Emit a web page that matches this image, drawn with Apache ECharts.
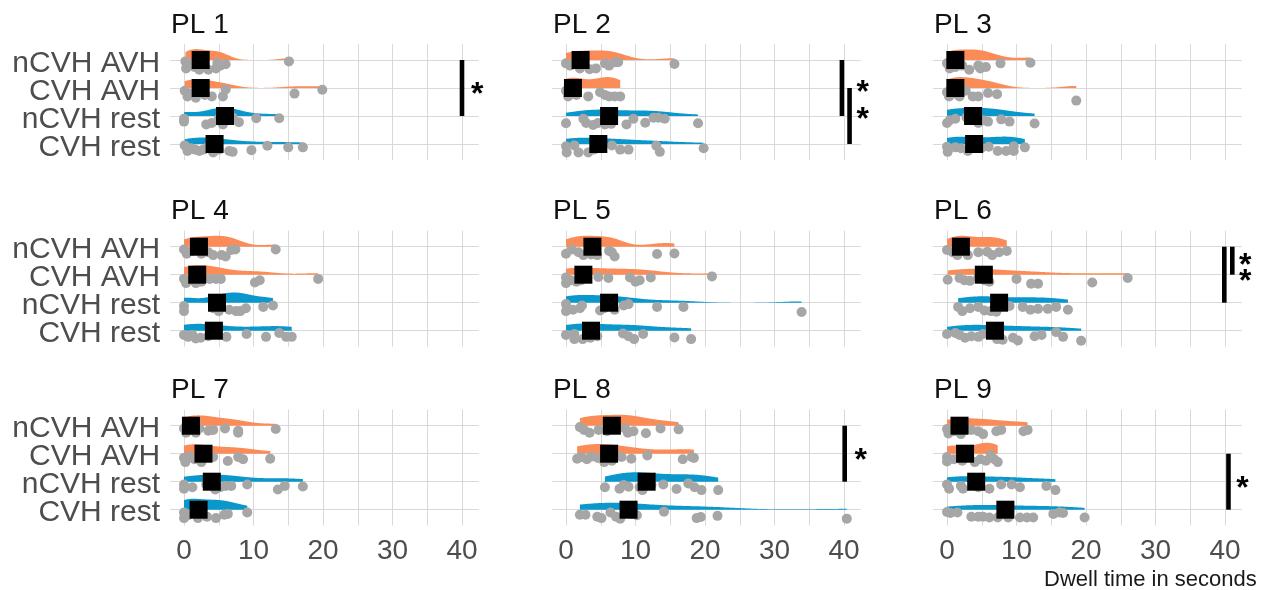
<!DOCTYPE html>
<html><head><meta charset="utf-8">
<script src="https://cdn.jsdelivr.net/npm/echarts@6/dist/echarts.min.js"></script>
<style>html,body{margin:0;padding:0;background:#fff}#c{width:1267px;height:590px}</style>
</head><body><div id="c"></div>
<script>
// ---------------- data ----------------
const categories = ['nCVH AVH', 'CVH AVH', 'nCVH rest', 'CVH rest'];
const panelTitles = ['PL 1', 'PL 2', 'PL 3', 'PL 4', 'PL 5', 'PL 6', 'PL 7', 'PL 8', 'PL 9'];
const xTickLabels = [0, 10, 20, 30, 40];
const xGridValues = [0, 5, 10, 15, 20, 25, 30, 35, 40];
const xTitle = 'Dwell time in seconds';

// each point: [dwell time in s, vertical jitter below the category line (in rows)]
const pl1 = [
  [[0.2,.05],[0.3,.3],[0.8,.15],[1.5,.25],[1.8,.1],[2.2,.35],[2.8,.2],[3.5,.35],[4.6,.3],[4.8,.1],[5.2,.2],[6.0,.15],[15.1,.05]],
  [[0.1,.1],[0.5,.3],[1.0,.2],[1.7,.35],[2.2,.1],[3.0,.25],[4.0,.3],[5.6,.3],[6.0,.05],[15.9,.2],[19.9,.06]],
  [[0.0,.1],[0.0,.2],[3.2,.3],[4.0,.25],[5.0,.1],[5.6,.3],[6.5,.15],[7.0,.05],[7.9,.22],[10.4,.08],[13.7,.08]],
  [[0.1,.05],[0.5,.25],[1.0,.15],[1.6,.2],[2.2,.25],[2.8,.2],[3.5,.1],[4.2,.3],[5.0,.2],[6.5,.25],[7.0,.28],[9.7,.22],[12.0,.06],[15.0,.12],[17.1,.12]]
];
const pl2 = [
  [[0.0,.12],[0.6,.2],[1.2,.1],[2.0,.3],[3.4,.33],[4.3,.3],[5.6,.12],[6.2,.2],[7.0,.08],[7.5,.08],[15.6,.14]],
  [[0.0,.1],[0.3,.3],[0.8,.2],[1.5,.25],[3.2,.3],[4.9,.15],[5.6,.25],[6.2,.3],[7.0,.3],[7.8,.3]],
  [[0.0,.26],[2.5,.1],[2.9,.25],[3.9,.32],[4.6,.25],[5.6,.3],[6.5,.28],[8.7,.3],[9.7,.1],[11.4,.24],[12.6,.06],[13.3,.06],[14.2,.1],[19.0,.26]],
  [[0.0,.08],[0.1,.3],[1.2,.05],[1.8,.3],[3.2,.3],[4.0,.2],[6.6,.05],[7.8,.2],[9.0,.2],[13.0,.06],[13.5,.28],[19.8,.15]]
];
const pl3 = [
  [[0.0,.12],[0.4,.3],[1.2,.25],[2.2,.2],[3.2,.35],[4.5,.2],[4.8,.3],[5.6,.25],[7.7,.12],[12.0,.1]],
  [[0.0,.15],[0.3,.3],[0.9,.2],[1.8,.3],[2.7,.1],[3.7,.3],[4.5,.3],[5.9,.18],[7.2,.22],[18.6,.45]],
  [[0.0,.25],[0.4,.15],[1.2,.1],[2.8,.05],[4.5,.25],[5.2,.15],[5.9,.2],[7.8,.12],[9.0,.2],[12.6,.27]],
  [[0.0,.1],[0.1,.28],[1.2,.12],[2.0,.15],[3.0,.25],[4.9,.15],[6.0,.1],[7.3,.25],[8.5,.25],[9.6,.08],[9.6,.25],[11.2,.12]]
];
const pl4 = [
  [[0.0,.1],[0.4,.25],[1.2,.15],[2.5,.25],[3.5,.2],[4.2,.3],[5.4,.3],[6.0,.35],[6.8,.12],[7.4,.1],[13.2,.1]],
  [[0.0,.15],[0.3,.3],[1.0,.2],[1.7,.3],[2.5,.25],[3.7,.15],[4.6,.15],[5.3,.15],[10.2,.28],[10.9,.2],[19.3,.15]],
  [[0.0,.12],[0.0,.3],[4.2,.2],[5.0,.3],[6.5,.25],[7.5,.3],[8.1,.3],[8.9,.2],[11.4,.15],[12.8,.1]],
  [[0.0,.15],[0.6,.22],[1.2,.15],[1.7,.28],[2.4,.25],[3.5,.2],[6.1,.22],[9.0,.12],[11.8,.22],[13.7,.08],[14.7,.22],[15.5,.22]]
];
const pl5 = [
  [[0.0,.25],[0.8,.1],[1.8,.2],[2.5,.3],[3.6,.28],[4.5,.3],[6.2,.15],[6.6,.2],[7.0,.35],[13.1,.26],[15.6,.24]],
  [[0.0,.1],[0.0,.3],[0.7,.2],[1.5,.25],[2.2,.2],[4.65,.08],[6.1,.12],[9.2,.1],[10.0,.25],[10.6,.2],[12.2,.1],[21.0,.06]],
  [[0.0,.05],[0.0,.3],[1.0,.25],[2.0,.2],[2.3,.1],[4.9,.28],[5.5,.2],[7.0,.25],[8.3,.1],[9.0,.05],[13.1,.15],[16.9,.15],[33.9,.33]],
  [[0.0,.15],[1.2,.12],[1.2,.3],[2.4,.3],[3.5,.25],[4.5,.2],[8.2,.1],[9.0,.2],[9.8,.3],[11.1,.12],[15.6,.24],[18.0,.3]]
];
const pl6 = [
  [[0.0,.12],[0.8,.2],[1.5,.3],[2.5,.1],[3.0,.3],[4.5,.2],[5.8,.18],[6.5,.3],[7.5,.2],[8.6,.15]],
  [[0.1,.18],[1.8,.12],[2.5,.2],[3.3,.22],[4.5,.1],[5.4,.2],[6.1,.25],[10.0,.15],[12.1,.32],[13.1,.32],[20.9,.28],[26.0,.12]],
  [[1.6,.15],[2.2,.3],[3.3,.2],[4.5,.15],[5.4,.28],[6.3,.3],[7.1,.32],[9.0,.12],[10.9,.15],[12.0,.25],[13.1,.22],[14.5,.22],[15.7,.15],[17.4,.25]],
  [[0.0,.12],[1.2,.08],[1.8,.15],[2.6,.25],[3.5,.2],[4.5,.22],[5.2,.12],[7.2,.3],[8.0,.32],[9.5,.25],[10.2,.35],[12.6,.2],[13.6,.15],[15.7,.05],[16.7,.22],[19.3,.36]]
];
const pl7 = [
  [[0.0,.1],[0.3,.25],[0.9,.15],[1.7,.25],[2.2,.1],[3.5,.18],[4.2,.15],[5.9,.1],[7.8,.25],[7.8,.18],[13.2,.12]],
  [[0.0,.15],[0.2,.3],[0.8,.1],[1.5,.2],[2.5,.3],[4.2,.12],[6.3,.26],[7.8,.12],[8.5,.2],[12.4,.18]],
  [[0.0,.1],[0.0,.25],[1.2,.2],[3.2,.1],[4.5,.28],[5.2,.2],[6.0,.15],[6.8,.15],[9.1,.1],[13.5,.28],[14.5,.15],[17.1,.17]],
  [[0.0,.1],[0.0,.3],[0.6,.2],[2.0,.3],[3.3,.25],[4.6,.3],[5.8,.18],[6.3,.15],[9.1,.1]]
];
const pl8 = [
  [[2.0,.05],[2.6,.15],[3.4,.25],[4.7,.15],[5.9,.2],[7.3,.12],[8.5,.1],[8.9,.25],[9.7,.2],[11.5,.27],[13.6,.1],[16.2,.13]],
  [[1.6,.18],[2.2,.12],[3.0,.2],[3.7,.1],[4.6,.15],[5.5,.3],[6.6,.25],[8.0,.12],[9.4,.18],[11.7,.06],[16.8,.2],[18.1,.12],[18.4,.15]],
  [[5.6,.2],[7.7,.25],[8.3,.12],[9.0,.18],[10.6,.2],[11.0,.3],[12.3,.12],[14.0,.1],[15.9,.26],[17.6,.06],[18.5,.2],[19.5,.3],[21.9,.3]],
  [[2.0,.18],[2.8,.18],[4.5,.25],[5.1,.3],[6.4,.1],[7.2,.25],[7.8,.32],[9.4,.15],[10.2,.2],[14.1,.07],[18.8,.3],[19.4,.26],[21.8,.22],[40.4,.32]]
];
const pl9 = [
  [[0.0,.12],[0.2,.28],[1.0,.2],[2.0,.3],[3.5,.15],[4.5,.2],[5.2,.3],[7.1,.2],[7.8,.15],[11.0,.2],[11.6,.15]],
  [[0.0,.12],[0.0,.28],[1.0,.2],[2.2,.25],[4.0,.3],[4.8,.2],[5.6,.25],[6.3,.05],[6.8,.2],[7.3,.3]],
  [[0.0,.1],[0.3,.25],[2.0,.15],[2.3,.25],[4.5,.2],[6.1,.25],[7.8,.1],[9.3,.1],[10.5,.2],[14.3,.15],[15.6,.3]],
  [[0.0,.08],[0.5,.12],[1.5,.1],[3.5,.25],[4.5,.25],[5.2,.25],[6.1,.28],[7.3,.28],[8.8,.28],[10.5,.28],[11.5,.28],[12.4,.28],[15.3,.15],[16.2,.1],[16.7,.12],[19.8,.28]]
];
const panelPoints = [pl1, pl2, pl3, pl4, pl5, pl6, pl7, pl8, pl9];

// black squares (per panel, per category in the order above)
const centers = [
  [2.4, 2.4, 5.9, 4.4],
  [2.1, 1.0, 6.2, 4.65],
  [1.2, 1.2, 3.75, 3.9],
  [2.15, 1.9, 4.75, 4.3],
  [3.8, 2.5, 6.2, 3.6],
  [2.0, 5.3, 7.5, 6.9],
  [1.0, 2.8, 4.0, 2.1],
  [6.6, 6.2, 11.6, 9.0],
  [1.8, 2.6, 4.2, 8.4]
];
// significance bars: [x position, from category index, to category index]
const sigBars = [
  [[40.0, 0, 2]], [[39.7, 0, 2], [40.8, 1, 3]], [],
  [], [], [[39.9, 0, 2], [41.05, 0, 1]],
  [], [[40.1, 0, 2]], [[40.5, 1, 3]]
];
// asterisks: [x position, category position (fractional index)]
const sigStars = [
  [[42.2, 1.08]], [[42.7, 1.0], [42.7, 1.97]], [],
  [], [], [[42.9, 0.53], [42.9, 1.1]],
  [], [[42.4, 1.1]], [[42.5, 2.1]]
];

// ---------------- styling / layout ----------------
const FONT = 'Liberation Sans, Arial, Helvetica, sans-serif';
const ORANGE = '#fb8c58', BLUE = '#0a98cc', POINT = '#a6a6a6';
const PPU = 6.95;
const XMIN = -2, XMAX = 42.4;
const colZero = [184, 566, 947];
const rowLineTop = [60, 246.7, 425.7];
const ROWSTEP = 28, PAD = 16;

function yOf(catIndex) { return 3 - catIndex; }

function kde(xs) {
  const n = xs.length;
  const s = xs.slice().sort((a, b) => a - b);
  const mean = s.reduce((a, b) => a + b, 0) / n;
  const sd = Math.sqrt(s.reduce((a, b) => a + (b - mean) * (b - mean), 0) / (n - 1));
  const q = p => { const h = (n - 1) * p, lo = Math.floor(h), hi = Math.ceil(h); return s[lo] + (h - lo) * (s[hi] - s[lo]); };
  const iqr = q(0.75) - q(0.25);
  let lo = Math.min(sd, iqr / 1.34); if (!(lo > 0)) lo = sd || 1;
  const bw = 0.9 * lo * Math.pow(n, -0.2);
  const a = s[0], b = s[n - 1], N = 200;
  const gx = [], gy = [];
  for (let i = 0; i < N; i++) {
    const t = a + (b - a) * i / (N - 1);
    let d = 0;
    for (const x of s) { const z = (t - x) / bw; d += Math.exp(-0.5 * z * z); }
    gx.push(t); gy.push(d / (n * bw * Math.sqrt(2 * Math.PI)));
  }
  return { xs: gx, ys: gy, max: Math.max(...gy) };
}

const grids = [], xAxes = [], yAxes = [], series = [], titles = [];
for (let p = 0; p < 9; p++) {
  const r = Math.floor(p / 3), c = p % 3;
  const left = colZero[c] + XMIN * PPU;
  const top = rowLineTop[r] - PAD;
  grids.push({ left: left, top: top, width: (XMAX - XMIN) * PPU, height: 3 * ROWSTEP + 2 * PAD,
    containLabel: false, outerBoundsMode: 'none' });
  titles.push({ text: panelTitles[p], left: left + 1, top: rowLineTop[r] - 49, padding: 0,
    textStyle: { fontFamily: FONT, fontSize: 28, fontWeight: 'normal', color: '#111' } });
  xAxes.push({
    gridIndex: p, type: 'value', min: XMIN, max: XMAX,
    name: p === 8 ? xTitle : '', nameLocation: 'middle', nameGap: 43,
    nameTextStyle: { fontFamily: FONT, fontSize: 22, color: '#1a1a1a', padding: [0, 0, 0, 126] },
    axisLine: { show: false }, axisTick: { show: false, customValues: xGridValues },
    splitLine: { show: true, lineStyle: { color: '#d9d9d9', width: 1 } },
    axisLabel: { show: r === 2, customValues: xTickLabels, fontFamily: FONT, fontSize: 28, color: '#4d4d4d', margin: 12, hideOverlap: false }
  });
  yAxes.push({
    gridIndex: p, type: 'value', min: -PAD / ROWSTEP, max: 3 + PAD / ROWSTEP,
    axisLine: { show: false }, axisTick: { show: false, customValues: [0, 1, 2, 3] },
    splitLine: { show: true, lineStyle: { color: '#d9d9d9', width: 1 } },
    axisLabel: { show: false }
  });

  const pts = panelPoints[p];
  const dens = pts.map(rowPts => kde(rowPts.map(d => d[0])));
  const maxD = Math.max(...dens.map(d => d.max));
  const k = 0.39 / maxD;
  series.push({
    type: 'custom', xAxisIndex: p, yAxisIndex: p, silent: true, z: 1,
    data: categories.map((_, i) => [centers[p][i], yOf(i)]),
    renderItem: (params, api) => {
      const i = params.dataIndex, y0 = yOf(i), d = dens[i];
      const poly = d.xs.map((x, j) => api.coord([x, y0 + d.ys[j] * k]));
      poly.push(api.coord([d.xs[d.xs.length - 1], y0]));
      poly.push(api.coord([d.xs[0], y0]));
      return { type: 'polygon', shape: { points: poly }, style: { fill: i < 2 ? ORANGE : BLUE } };
    }
  });
  const scatterData = [];
  pts.forEach((rowPts, i) => rowPts.forEach(d => scatterData.push([d[0], yOf(i) - d[1]])));
  series.push({ type: 'scatter', xAxisIndex: p, yAxisIndex: p, silent: true, z: 2,
    symbol: 'circle', symbolSize: 10, itemStyle: { color: POINT, opacity: 1 }, data: scatterData });
  series.push({ type: 'scatter', xAxisIndex: p, yAxisIndex: p, silent: true, z: 3,
    symbol: 'rect', symbolSize: 18, itemStyle: { color: '#000', opacity: 1 },
    data: centers[p].map((v, i) => [v, yOf(i)]) });
  if (sigBars[p].length) {
    series.push({ type: 'custom', xAxisIndex: p, yAxisIndex: p, silent: true, z: 4,
      data: sigBars[p].map(b => [b[0], yOf(b[1]), yOf(b[2])]),
      renderItem: (params, api) => {
        const a = api.coord([api.value(0), api.value(1)]);
        const b = api.coord([api.value(0), api.value(2)]);
        return { type: 'line', shape: { x1: a[0], y1: a[1], x2: b[0], y2: b[1] },
          style: { stroke: '#000', lineWidth: 4.6 } };
      } });
    series.push({ type: 'custom', xAxisIndex: p, yAxisIndex: p, silent: true, z: 4,
      data: sigStars[p].map(s => [s[0], yOf(s[1])]),
      renderItem: (params, api) => {
        const a = api.coord([api.value(0), api.value(1)]);
        return { type: 'text', x: a[0], y: a[1] + 5,
          style: { text: '*', fill: '#000', font: 'bold 32px ' + FONT, align: 'center', verticalAlign: 'middle' } };
      } });
  }
}

// category label axes for the left column (one band per category line)
for (let r = 0; r < 3; r++) {
  const gi = grids.length;
  grids.push({ left: colZero[0] + XMIN * PPU, top: rowLineTop[r] - ROWSTEP / 2 + 3.5, width: 10, height: 4 * ROWSTEP,
    containLabel: false, outerBoundsMode: 'none' });
  xAxes.push({ gridIndex: gi, type: 'value', show: false });
  yAxes.push({ gridIndex: gi, type: 'category', data: categories.slice().reverse(),
    axisLine: { show: false }, axisTick: { show: false }, splitLine: { show: false },
    axisLabel: { interval: 0, fontFamily: FONT, fontSize: 30, color: '#4d4d4d', margin: 10 } });
}

const chart = echarts.init(document.getElementById('c'), null, { renderer: 'canvas' });
chart.setOption({
  backgroundColor: '#fff', animation: false,
  title: titles, grid: grids, xAxis: xAxes, yAxis: yAxes, series: series
});
</script></body></html>
